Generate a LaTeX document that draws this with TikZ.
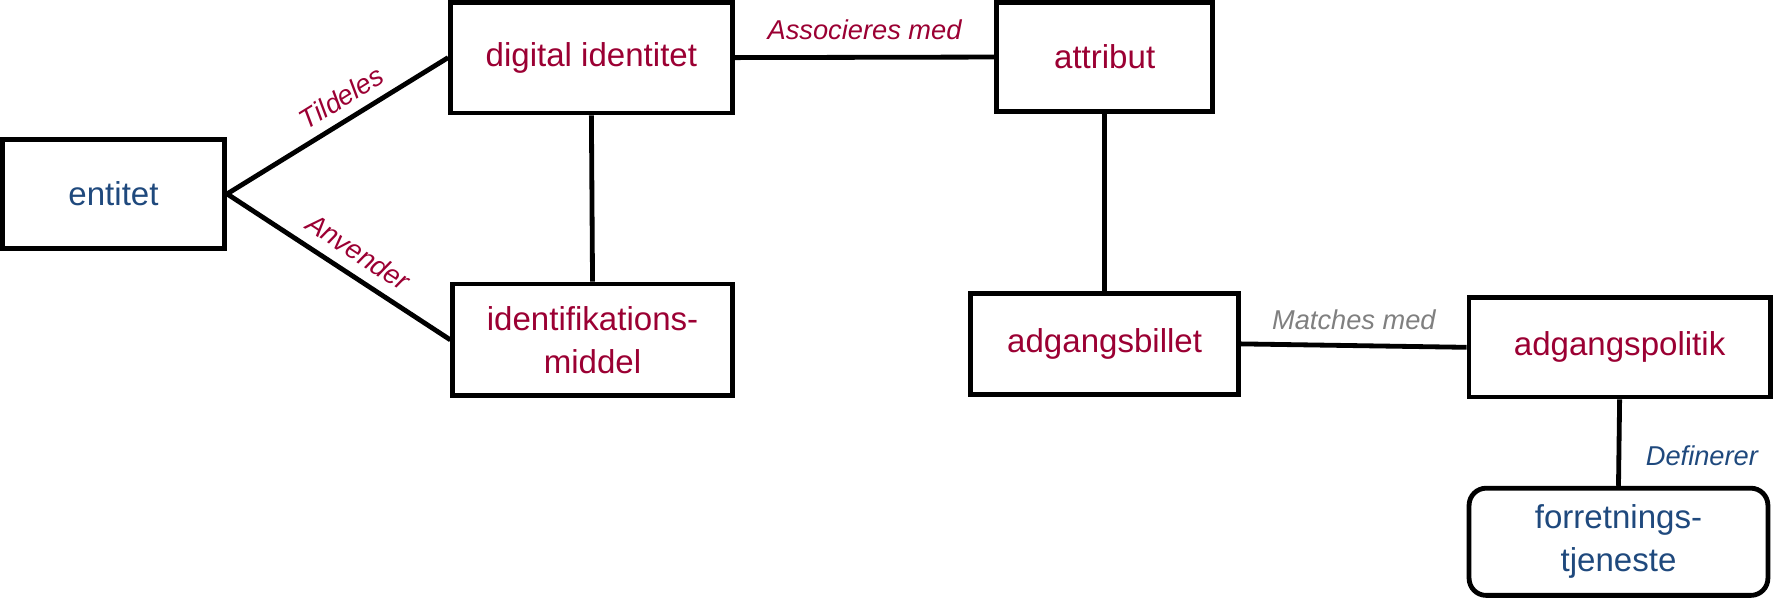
\documentclass[tikz,border=0pt]{standalone}
\usepackage{fontspec}
\setmainfont{Liberation Sans}
\usetikzlibrary{positioning}
\tikzstyle{box}=[draw=black, line width=2.4pt, align=center, font=\fontsize{16.5}{21.6}\selectfont, inner sep=2pt]
\tikzstyle{link}=[line width=2.4pt]
\tikzstyle{rel}=[font=\fontsize{13.6}{16}\selectfont\itshape, inner sep=2pt]
\definecolor{term_red}{RGB}{155, 0, 51}
\definecolor{term_blue}{RGB}{31, 73, 125}
\definecolor{rel_grey}{RGB}{128, 128, 128}

\begin{document}
\begin{tikzpicture}
            \useasboundingbox (0, 0) rectangle (31.3, -10.61);
            \node[box, text=term_blue, minimum width=3.9cm, minimum height=1.92cm] (entitet) at (1.99, -3.40) {entitet};
            \node[box, text=term_red, minimum width=4.94cm, minimum height=1.94cm] (digid) at (10.37, -1.01) {digital identitet};
            \node[box, text=term_red, minimum width=4.9cm, minimum height=1.96cm] (idmiddel) at (10.39, -5.96) {identifikations-\\middel};
            \node[box, text=term_red, minimum width=3.78cm, minimum height=1.92cm] (attribut) at (19.37, -1.0) {attribut};
            \node[box, text=term_red, minimum width=4.7cm, minimum height=1.78cm] (billet) at (19.37, -6.03) {adgangsbillet};
            \node[box, text=term_red, minimum width=5.28cm, minimum height=1.74cm] (politik) at (28.4, -6.09) {adgangspolitik};
            \node[box, text=term_blue, rounded corners=0.3cm, minimum width=5.24cm, minimum height=1.88cm] (tjeneste) at (28.38, -9.5) {forretnings-\\tjeneste};
            \draw[link] (entitet.east) -- node[rel, text=term_red, sloped, above=0.1cm, pos=0.57] (tildeles) {Tildeles} (digid.west);
            \draw[link] (entitet.east) -- node[rel, text=term_red, sloped, above=0.12cm, pos=0.53] (anvender) {Anvender} (idmiddel.west);
            \draw[link] (digid.south) -- (idmiddel.north);
            \draw[link] (digid.east) -- node[rel, text=term_red, above=0.2cm] (assoc) {Associeres med} (attribut.west);
            \draw[link] (attribut.south) -- (billet.north);
            \draw[link] (billet.east) -- node[rel, text=rel_grey, above=0.16cm] (matches) {Matches med} (politik.west);
            \draw[link] (politik.south) -- node[rel, text=term_blue, right=0.36cm, pos=0.65] (definerer) {Definerer} (tjeneste.north);
        \end{tikzpicture}
\end{document}
